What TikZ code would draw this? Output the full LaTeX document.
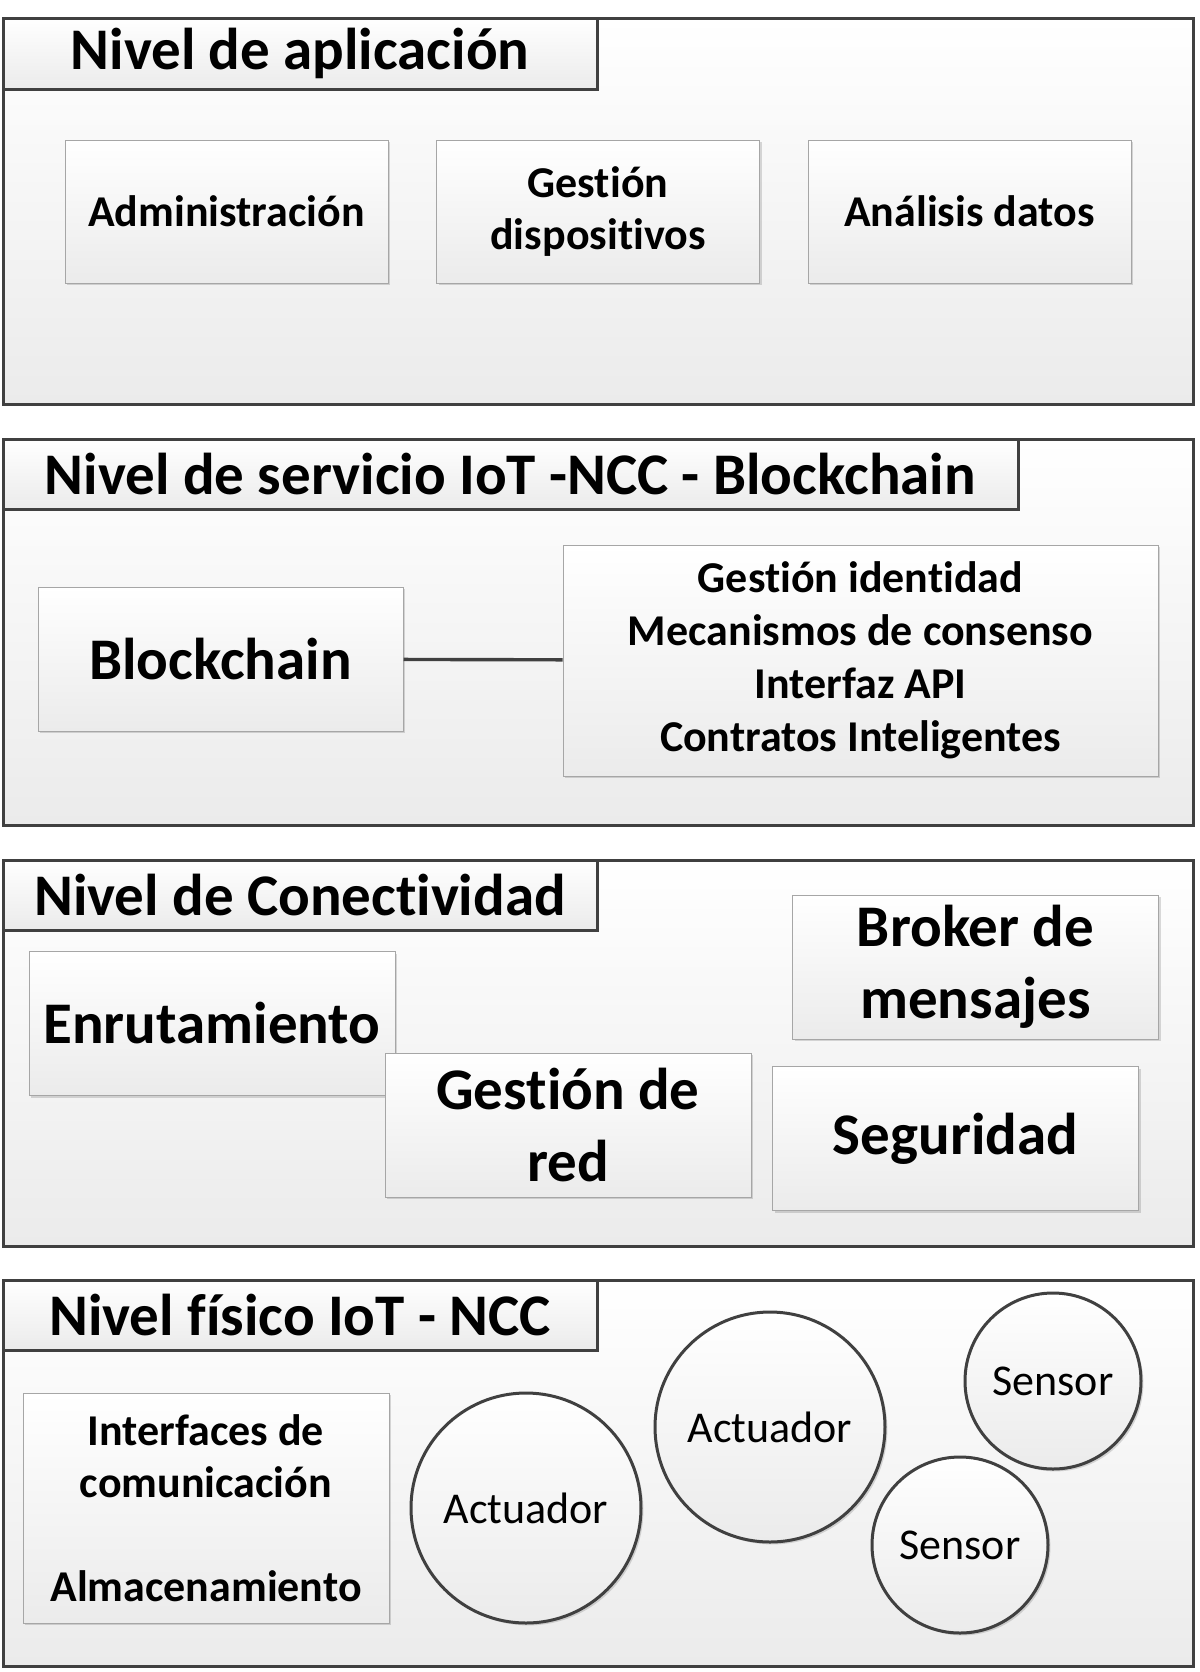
\documentclass[tikz,border=0pt]{standalone}
\usepackage{fontspec}
\setmainfont{Carlito}[Ligatures=NoCommon]
\usetikzlibrary{shadows}
\definecolor{borde}{HTML}{404040}
\definecolor{bordecaja}{HTML}{A6A6A6}
\definecolor{fondo}{HTML}{EBEBEB}
\tikzset{
  sombra/.style={drop shadow={shadow xshift=1.2pt, shadow yshift=-1.2pt, fill=black, opacity=.14}},
  marco/.style={draw=borde, line width=1.5pt, top color=white, bottom color=fondo,
    anchor=north west, inner sep=0pt, outer sep=0pt, minimum width=595pt, minimum height=193pt, sombra},
  pestana/.style={marco, minimum width=297pt, minimum height=35.5pt,
    font=\fontsize{29.5}{35}\selectfont\bfseries},
  caja/.style={draw=bordecaja, line width=.5pt, top color=white, bottom color=fondo,
    align=center, inner sep=2pt, minimum width=161.5pt, minimum height=71.5pt,
    font=\fontsize{22}{26}\selectfont\bfseries, sombra},
  grande/.style={caja, minimum width=183pt, minimum height=72pt,
    font=\fontsize{29.5}{36}\selectfont\bfseries},
  disco/.style={circle, draw=borde, line width=1.5pt, top color=white, bottom color=fondo,
    inner sep=0pt, font=\fontsize{22}{26}\selectfont, sombra},
  conector/.style={draw=borde, line width=1.7pt},
}
\begin{document}
\begin{tikzpicture}[x=0.5pt, y=-0.5pt]
  \fill[white] (0,0) rectangle (1200,1672);
  \useasboundingbox (0,0) rectangle (1200,1672);
  % aplicacion
  \node (Ap) at (3,18) [marco] {};
  \node (tAp) at (3,18) [pestana] {Nivel de aplicación};
  \node (Ad) at (226.5,211.5) [caja] {Administración};
  \node (Gd) at (598,211.5) [caja] {Gestión\\dispositivos};
  \node (An) at (969.5,211.5) [caja] {Análisis datos};
  % servicio
  \node (Sv) at (3,439) [marco] {};
  \node (tSv) at (3,439) [pestana, minimum width=507.5pt, minimum height=35pt] {Nivel de servicio IoT -NCC - Blockchain};
  \node (Bl) at (220.5,659) [grande, minimum width=182.5pt] {Blockchain};
  \node (Gi) at (860.5,660.5) [caja, minimum width=297.5pt, minimum height=115.5pt,
    font=\fontsize{22}{26.5}\selectfont\bfseries]
    {Gestión identidad\\Mecanismos de consenso\\Interfaz API\\Contratos Inteligentes} edge [conector] (Bl);
  % conectividad
  \node (Cn) at (3,860) [marco] {};
  \node (tCn) at (3,860) [pestana, minimum height=35pt] {Nivel de Conectividad};
  \node (En) at (212,1023.5) [grande] {Enrutamiento};
  \node (Gr) at (568,1125) [grande] {Gestión de\\red};
  \node (Br) at (975.5,967) [grande] {Broker de\\mensajes};
  \node (Sg) at (955.5,1138.5) [grande] {Seguridad};
  % fisico
  \node (Fs) at (3,1280) [marco] {};
  \node (tFs) at (3,1280) [pestana, minimum height=35pt] {Nivel físico IoT - NCC};
  \node (If) at (206,1508) [caja, minimum width=183pt, minimum height=115pt]
    {Interfaces de\\comunicación\\[26pt]Almacenamiento};
  \node (A1) at (526,1508) [disco, minimum size=115pt] {Actuador};
  \node (A2) at (770,1427) [disco, minimum size=115pt] {Actuador};
  \node (S1) at (1053,1381) [disco, minimum size=88pt] {Sensor};
  \node (S2) at (960,1545) [disco, minimum size=88pt] {Sensor};
\end{tikzpicture}
\end{document}
